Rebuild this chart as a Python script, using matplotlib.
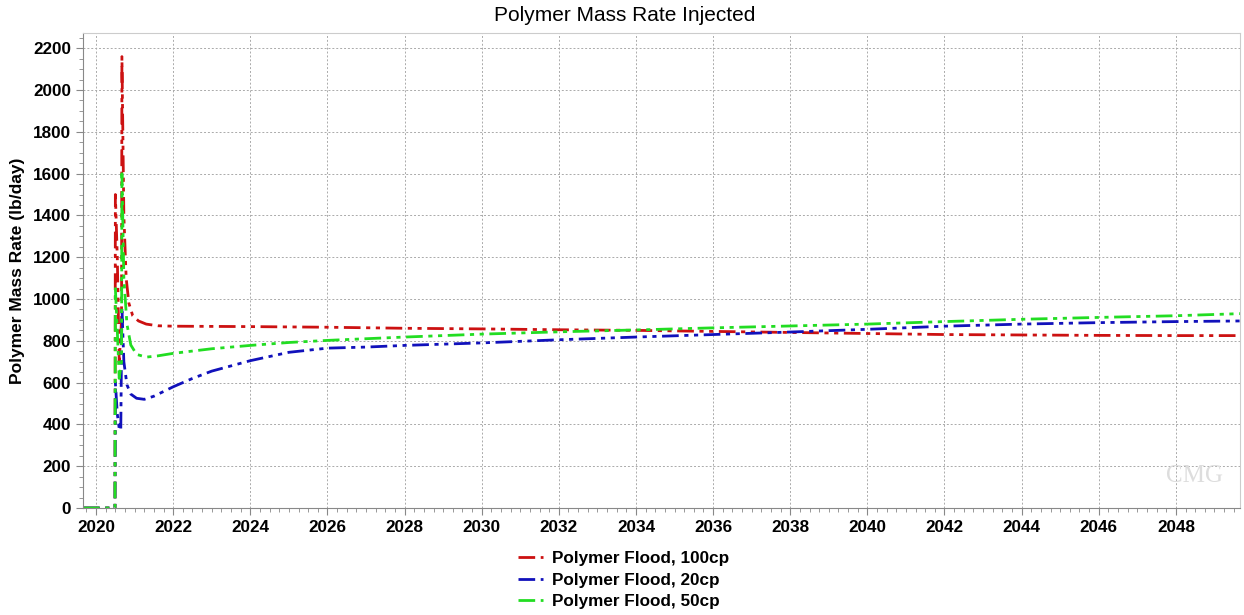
import matplotlib.pyplot as plt
from matplotlib.ticker import MultipleLocator

# injection history, time in decimal years, rate in lb/day
t_100 = [2019.66, 2020.49, 2020.50, 2020.55, 2020.60, 2020.66, 2020.67, 2020.72, 2020.78,
         2020.85, 2020.95, 2021.1, 2021.3, 2021.6, 2022, 2024, 2026, 2028, 2030, 2032,
         2034, 2036, 2038, 2040, 2042, 2044, 2046, 2048, 2049.66]
q_100 = [0, 0, 1500, 1200, 700, 900, 2160, 1400, 1100,
         980, 920, 895, 880, 872, 870, 868, 865, 860, 857, 853,
         850, 845, 840, 835, 830, 828, 826, 825, 825]

t_20 = [2019.66, 2020.49, 2020.50, 2020.55, 2020.60, 2020.64, 2020.67, 2020.72, 2020.8,
        2020.9, 2021.05, 2021.25, 2021.5, 2022, 2022.5, 2023, 2024, 2025, 2026, 2027,
        2028, 2030, 2032, 2034, 2036, 2038, 2040, 2042, 2044, 2046, 2048, 2049.66]
q_20 = [0, 0, 600, 450, 380, 370, 960, 700, 590,
        545, 525, 520, 535, 580, 620, 655, 705, 745, 765, 770,
        778, 790, 805, 818, 830, 842, 855, 870, 880, 887, 892, 895]

t_50 = [2019.66, 2020.49, 2020.50, 2020.55, 2020.60, 2020.66, 2020.67, 2020.72, 2020.8,
        2020.9, 2021.05, 2021.3, 2021.6, 2022, 2023, 2024, 2025, 2026, 2028, 2030,
        2032, 2034, 2036, 2038, 2040, 2042, 2044, 2046, 2048, 2049.66]
q_50 = [0, 0, 1050, 850, 620, 700, 1600, 1100, 880,
        780, 735, 722, 728, 740, 762, 778, 792, 802, 818, 832,
        843, 852, 862, 871, 880, 892, 903, 912, 920, 930]

plt.rcParams['font.family'] = ['Liberation Sans', 'DejaVu Sans']

fig = plt.figure(figsize=(12.44, 6.15), dpi=100)
ax = fig.add_axes([0.0667, 0.174, 0.930, 0.772])

dash = (0, (6, 2, 1.5, 2, 1.5, 2))
ax.plot(t_100, q_100, color='#cc1111', lw=2, linestyle=dash, label='Polymer Flood, 100cp')
ax.plot(t_20, q_20, color='#1111bb', lw=2, linestyle=dash, label='Polymer Flood, 20cp')
ax.plot(t_50, q_50, color='#22dd22', lw=2, linestyle=dash, label='Polymer Flood, 50cp')

ax.set_xlim(2019.66, 2049.66)
ax.set_ylim(0, 2272)
ax.xaxis.set_major_locator(MultipleLocator(2))
ax.xaxis.set_minor_locator(MultipleLocator(0.25))
ax.yaxis.set_major_locator(MultipleLocator(200))
ax.yaxis.set_minor_locator(MultipleLocator(50))
ax.xaxis.set_major_formatter(plt.FuncFormatter(lambda v, p: f'{int(round(v))}'))

ax.grid(True, which='major', color='#aaaaaa', linestyle=(0, (2, 2)), lw=0.7)
ax.tick_params(which='both', direction='out', color='#888888')
ax.tick_params(which='major', length=5, labelsize=12.3)
ax.tick_params(which='minor', length=3)
for lbl in ax.get_xticklabels() + ax.get_yticklabels():
    lbl.set_fontweight('bold')

for s in ['left', 'bottom']:
    ax.spines[s].set_color('#888888')
for s in ['top', 'right']:
    ax.spines[s].set_color('#cccccc')

fig.text(0.5025, 0.975, 'Polymer Mass Rate Injected', fontsize=15, ha='center', va='center')
ax.set_ylabel('Polymer Mass Rate (lb/day)', fontsize=12.5, fontweight='bold', labelpad=6)

ax.text(0.985, 0.045, 'CMG', transform=ax.transAxes, ha='right', va='bottom',
        fontsize=18, color='#dddddd', family='Liberation Serif')

fig.legend(loc='upper center', bbox_to_anchor=(0.501, 0.129), frameon=False,
           handlelength=1.5, handletextpad=0.5, labelspacing=0.38,
           prop={'weight': 'bold', 'size': 12.3})

fig.savefig('out.png', dpi=100)
